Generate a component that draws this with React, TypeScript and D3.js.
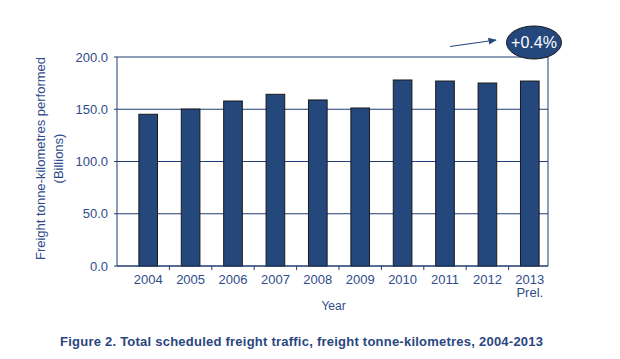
import React from 'react';
import * as d3 from 'd3';

const years = ['2004', '2005', '2006', '2007', '2008', '2009', '2010', '2011', '2012', '2013'];
const tonneKm = [145.2, 150.2, 157.9, 164.3, 158.9, 151.2, 178.0, 177.0, 175.1, 177.0];
const yTicks = [0, 50, 100, 150, 200];
const changeLabel = '+0.4%';

const W = 620;
const H = 359;
const left = 117;
const right = 548;
const top = 57;
const bottom = 266;

const textBlue = '#2F4C8C';
const lineBlue = '#1F3D72';
const barBlue = '#24477C';

const App = () => {
    const x = d3.scaleBand().domain(years).range([127, 551]).paddingInner(0.56).paddingOuter(0.28);
    const y = d3.scaleLinear().domain([0, 200]).range([bottom, top]);
    const font = 'Liberation Sans, Arial, sans-serif';

    // tick marks sit between the bars
    const sepTicks = years.slice(1).map((yr) => x(yr) - (x.step() - x.bandwidth()) / 2);
    const midY = (top + bottom) / 2;
    const last = years[years.length - 1];

    return (
        <svg width={W} height={H} style={{ display: 'block', position: 'absolute', left: 0, top: 0 }} fontFamily={font}>
            <defs>
                <marker id="arr" viewBox="0 0 10 10" refX="9" refY="5" markerWidth="7" markerHeight="7" orient="auto">
                    <path d="M0,1 L10,5 L0,9 z" fill={barBlue} />
                </marker>
            </defs>

            {/* gridlines */}
            {yTicks.map((t) => (
                <line key={t} x1={left} x2={right} y1={y(t)} y2={y(t)} stroke={lineBlue} strokeWidth={1} />
            ))}
            {yTicks.map((t) => (
                <g key={'yl' + t}>
                    <line x1={left - 3} x2={left} y1={y(t)} y2={y(t)} stroke={lineBlue} />
                    <text x={108} y={y(t)} dy="0.35em" textAnchor="end" fontSize={13} fill={textBlue}>
                        {d3.format('.1f')(t)}
                    </text>
                </g>
            ))}

            {/* bars */}
            {years.map((yr, i) => (
                <rect key={yr} x={x(yr)} y={y(tonneKm[i])} width={x.bandwidth()} height={bottom - y(tonneKm[i])}
                    fill={barBlue} stroke="#1a1a1a" strokeWidth={1} />
            ))}

            {/* axes frame */}
            <line x1={left} x2={left} y1={top} y2={bottom} stroke={lineBlue} />
            <line x1={right} x2={right} y1={top - 4} y2={bottom} stroke={lineBlue} />
            <line x1={left} x2={right} y1={bottom} y2={bottom} stroke={lineBlue} />
            {sepTicks.map((tx, i) => (
                <line key={i} x1={tx} x2={tx} y1={bottom} y2={bottom + 4} stroke={lineBlue} />
            ))}

            {years.map((yr) => (
                <text key={'xl' + yr} x={x(yr) + x.bandwidth() / 2} y={279} dy="0.35em" textAnchor="middle" fontSize={13} fill={textBlue}>
                    {yr}
                </text>
            ))}
            <text x={x(last) + x.bandwidth() / 2} y={292.5} dy="0.35em" textAnchor="middle" fontSize={13} fill={textBlue}>Prel.</text>

            <text x={(left + right) / 2 + 1} y={305.5} dy="0.35em" textAnchor="middle" fontSize={12} fill={textBlue}>Year</text>

            <text transform={`translate(40,${midY - 3}) rotate(-90)`} dy="0.35em" textAnchor="middle" fontSize={13} fill={textBlue}>
                Freight tonne-kilometres performed
            </text>
            <text transform={`translate(58,${midY - 3}) rotate(-90)`} dy="0.35em" textAnchor="middle" fontSize={13} fill={textBlue}>
                (Billions)
            </text>

            {/* annotation */}
            <line x1={450} y1={46.5} x2={496} y2={40} stroke={barBlue} strokeWidth={1.2} markerEnd="url(#arr)" />
            <ellipse cx={534} cy={42.5} rx={27.5} ry={16.5} fill={barBlue} stroke="#1a1a1a" strokeWidth={1} />
            <text x={534} y={42.5} dy="0.36em" textAnchor="middle" fontSize={16} fill="#ffffff">{changeLabel}</text>

            <text x={301.5} y={341.5} dy="0.35em" textAnchor="middle" fontSize={13} fontWeight="bold" fill="#2A4680"
                textLength={483} lengthAdjust="spacing">
                Figure 2. Total scheduled freight traffic, freight tonne-kilometres, 2004-2013
            </text>
        </svg>
    );
};

export default App;
